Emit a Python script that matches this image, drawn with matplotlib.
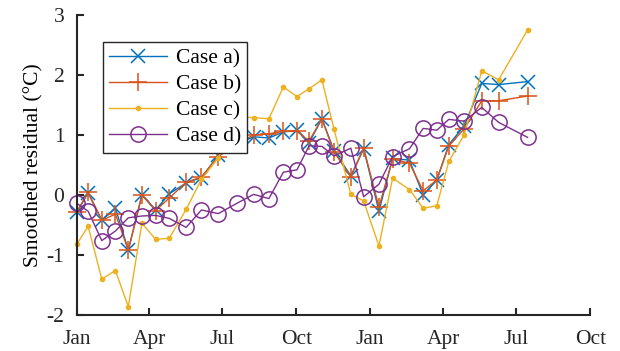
import numpy as np
import matplotlib
matplotlib.use("Agg")
import matplotlib.pyplot as plt

# sample dates (irregular spacing)
dates = ["2015-01-01", "2015-01-15", "2015-02-01", "2015-02-18", "2015-03-06",
         "2015-03-23", "2015-04-09", "2015-04-26", "2015-05-17", "2015-06-05",
         "2015-06-26", "2015-07-19", "2015-08-09", "2015-08-28", "2015-09-15",
         "2015-10-02", "2015-10-17", "2015-11-02", "2015-11-17", "2015-12-08",
         "2015-12-24", "2016-01-12", "2016-01-29", "2016-02-19", "2016-03-07",
         "2016-03-24", "2016-04-08", "2016-04-27", "2016-05-19", "2016-06-09",
         "2016-07-15"]

case_a = [-0.28, 0.03, -0.42, -0.22, -0.92, 0.00, -0.25, 0.02, 0.20, 0.29,
          0.66, 0.85, 0.97, 0.95, 1.05, 1.08, 0.87, 1.27, 0.74, 0.32,
          0.77, -0.27, 0.61, 0.58, 0.00, 0.25, 0.84, 1.15, 1.86, 1.84, 1.89]
case_b = [-0.28, 0.05, -0.42, -0.32, -0.92, 0.00, -0.26, -0.05, 0.21, 0.30,
          0.64, 0.85, 1.00, 1.02, 1.06, 1.06, 0.90, 1.27, 0.72, 0.30,
          0.78, -0.20, 0.60, 0.53, 0.07, 0.25, 0.82, 1.10, 1.57, 1.57, 1.65]
case_c = [-0.82, -0.52, -1.40, -1.26, -1.86, -0.47, -0.74, -0.72, -0.24, 0.26,
          0.62, 1.30, 1.29, 1.27, 1.80, 1.64, 1.77, 1.92, 1.10, 0.01,
          -0.10, -0.85, 0.28, 0.09, -0.22, -0.18, 0.56, 1.00, 2.07, 1.92, 2.75]
case_d = [-0.14, -0.27, -0.76, -0.60, -0.38, -0.35, -0.34, -0.39, -0.54, -0.25,
          -0.31, -0.14, 0.01, -0.06, 0.38, 0.42, 0.82, 0.81, 0.65, 0.78,
          -0.03, 0.18, 0.64, 0.77, 1.11, 1.08, 1.26, 1.23, 1.46, 1.21, 0.96]

labels = ["Case a)", "Case b)", "Case c)", "Case d)"]
tick_dates = ["2015-01-01", "2015-04-01", "2015-07-01", "2015-10-01",
              "2016-01-01", "2016-04-01", "2016-07-01", "2016-10-01"]
tick_labels = ["Jan", "Apr", "Jul", "Oct", "Jan", "Apr", "Jul", "Oct"]

plt.rcParams["font.family"] = ["Liberation Serif", "DejaVu Serif"]
plt.rcParams["font.size"] = 15.5
plt.rcParams["axes.unicode_minus"] = False

x = np.array(dates, dtype="datetime64[D]")

fig = plt.figure(figsize=(6.2, 3.51), dpi=100)
ax = fig.add_axes([0.124, 0.1026, 0.828, 0.8547])

ax.plot(x, case_a, color="#0072BD", marker="x", ms=10.5, mew=1.1, lw=1.0, label=labels[0], clip_on=False)
ax.plot(x, case_b, color="#D95319", marker="+", ms=12.5, mew=1.1, lw=1.0, label=labels[1], clip_on=False)
ax.plot(x, case_c, color="#EDB120", marker=".", ms=6, lw=1.0, label=labels[2], clip_on=False)
ax.plot(x, case_d, color="#7E2F8E", marker="o", ms=11, mfc="none", mew=1.1, lw=1.0, label=labels[3], clip_on=False)

ax.set_xlim(np.datetime64(tick_dates[0]), np.datetime64(tick_dates[-1]))
ax.set_xticks(np.array(tick_dates, dtype="datetime64[D]"))
ax.set_xticklabels(tick_labels)
ax.set_ylim(-2, 3)
ax.set_yticks([-2, -1, 0, 1, 2, 3])
ax.set_ylabel("Smoothed residual (°C)", labelpad=2)

for s in ["top", "right"]:
    ax.spines[s].set_visible(False)
for s in ["left", "bottom"]:
    ax.spines[s].set_color("#262626")
    ax.spines[s].set_linewidth(1.5)
ax.tick_params(direction="in", length=5, width=1.5, color="#262626", labelcolor="#262626")
ax.tick_params(axis="x", pad=11)
ax.tick_params(axis="y", pad=9)

leg = ax.legend(loc="upper left", bbox_to_anchor=(0.05, 0.91), fancybox=False,
                edgecolor="#262626", framealpha=1, handlelength=2.7,
                labelspacing=0.28, borderpad=0.3, handletextpad=0.4,
                borderaxespad=0)
leg.get_frame().set_linewidth(1.0)

fig.savefig("out.png", dpi=100)
